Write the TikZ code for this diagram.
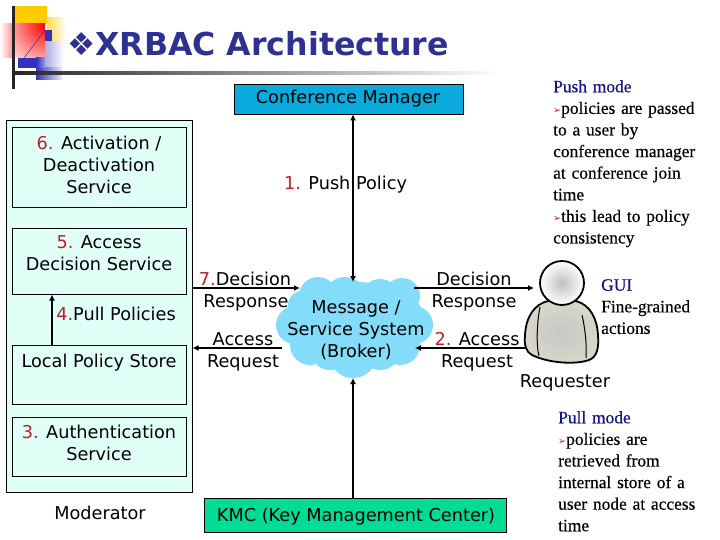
\documentclass[tikz,border=0pt]{standalone}
\usepackage{fontspec}
\setmainfont{DejaVu Sans}
\newfontfamily\serifx[FakeBold=0.4]{Liberation Serif}
\usetikzlibrary{arrows.meta,shapes.geometric}
\definecolor{titleblue}{RGB}{46,49,146}
\definecolor{navy}{RGB}{20,20,140}
\definecolor{numred}{RGB}{190,30,45}
\definecolor{boxfill}{RGB}{224,255,246}
\definecolor{cloudblue}{RGB}{130,220,250}
\definecolor{confblue}{RGB}{10,170,220}
\definecolor{kmcgreen}{RGB}{0,220,150}
\definecolor{bodygrey}{RGB}{216,215,200}
\definecolor{logoblue}{RGB}{50,50,190}
\definecolor{logoyellow}{RGB}{255,204,0}
\newcommand{\num}[1]{\textcolor{numred}{#1}}
\newcommand{\tip}{\textcolor{numred}{\scalebox{.55}{\fontspec{DejaVu Sans}➢}}}
\tikzset{
 x=1pt,y=-1pt,
 svc/.style={draw=black,line width=.7pt,fill=boxfill,minimum width=174pt,inner sep=0pt},
 lbl/.style={align=center,inner sep=0pt,font=\fontsize{17.7}{22}\selectfont},
 note/.style={align=left,anchor=north west,inner sep=0pt,font=\serifx\fontsize{17.4}{21.6}\selectfont,text width=#1},
 note/.default=165pt,
 arr/.style={line width=1.5pt,-{Latex[length=6pt,width=6pt]}},
 darr/.style={line width=1.5pt,{Latex[length=6pt,width=6pt]}-{Latex[length=6pt,width=6pt]}}
}
\begin{document}
\begin{tikzpicture}
\useasboundingbox (0,0) rectangle (720,540);
% logo
\fill[logoyellow] (15,6) rectangle (47,24);
\fill[left color=logoyellow!70!white,right color=white] (47,18) rectangle (66,42);
\fill[left color=white,right color=red!50!white] (0,24) rectangle (15,58);
\begin{scope}
\clip (15,24) rectangle (45,58);
\shade[inner color=red,outer color=red!15!white] (45,24) circle (45);
\end{scope}
\fill[logoblue] (45,30) rectangle (52,42);
\fill[left color=logoblue!40!white,right color=white] (45,42) rectangle (64,68);
\fill[left color=logoblue,right color=logoblue!10!white] (36,68) rectangle (62,80);
\fill[logoblue] (18,58) rectangle (36,68);
\fill[left color=logoblue,right color=logoblue!50!white] (36,58) rectangle (45,68);
\draw[titleblue,line width=.5pt] (24,58) -- (45,30);
\fill[black!85] (12,6) rectangle (15,89);
\shade[left color=black!85,right color=white] (15,72) rectangle (500,75);
% title
\node[anchor=west,inner sep=0pt,text=titleblue,font=\fontsize{31.6}{36}\selectfont] (title) at (67,44) {\fontspec{DejaVu Sans}❖\fontspec{DejaVu Sans Bold}XRBAC Architecture};
% moderator
\node[draw=black,line width=.7pt,fill=boxfill,minimum width=186pt,minimum height=372pt,inner sep=0pt] (outer) at (99,306) {};
\node[svc,minimum height=80pt] (s6) at (99,167) {};
\node[lbl] (s6t) at (99,165) {\num{6.} Activation /\\Deactivation\\Service};
\node[svc,minimum height=66pt,anchor=north] (s5) at (99,228) {};
\node[lbl] (s5t) at (99,253) {\num{5.} Access\\Decision Service};
\node[svc,minimum height=59pt,anchor=north] (store) at (99,345) {};
\node[lbl] (storet) at (99,363) {Local Policy Store};
\node[svc,minimum height=59pt,anchor=north] (s3) at (99,417) {};
\node[lbl] (s3t) at (99,443) {\num{3.} Authentication\\Service};
\node[lbl] (pull) at (116,314) {\num{4.}Pull Policies};
\node[lbl] (mod) at (100,513) {Moderator};
\coordinate (pA) at (52,345);
\coordinate (pB) at (52,294.5);
\draw[arr] (pA) -- (pB);
% top and bottom
\node[draw=black,line width=.7pt,fill=confblue,minimum width=229pt,minimum height=30pt,inner sep=0pt] (conf) at (348.5,99) {};
\node[lbl] (conft) at (348,99) {Conference Manager};
\node[draw=black,line width=.7pt,fill=kmcgreen,minimum width=302pt,minimum height=34pt,inner sep=0pt] (kmc) at (355,515) {};
\node[lbl] (kmct) at (356,517) {KMC (Key Management Center)};
% cloud
\fill[cloudblue] (318,296) circle (19) (302,305) circle (14) (345,298) circle (21) (380,298) circle (19) (402,296) circle (18)
 (295,325) circle (19) (414,325) circle (19) (310,345) circle (20) (400,345) circle (20) (353,354) circle (24) (330,350) circle (20) (380,350) circle (20) (355,320) ellipse (70 and 38);
\node[lbl] (msg) at (356,330) {Message /\\Service System\\(Broker)};
\coordinate (cT) at (353,282);
\coordinate (cB) at (353,378);
\draw[darr] (conf.south -| cT) -- (cT);
\draw[arr] (kmc.north -| cB) -- (cB);
\node[lbl] (push) at (345.5,185) {\num{1.} Push Policy};
% connectors
\coordinate (lE1) at (192,288);
\coordinate (lE2) at (300,288);
\coordinate (lE3) at (282,348);
\coordinate (lE4) at (192.5,348);
\coordinate (rE1) at (414,288);
\coordinate (rE2) at (534,288);
\coordinate (rE3) at (534,348);
\coordinate (rE4) at (415,348);
\draw[arr] (lE1) -- (lE2);
\draw[arr] (lE3) -- (lE4);
\draw[arr] (rE1) -- (rE2);
\draw[arr] (rE3) -- (rE4);
\node[lbl] (t7) at (245,279) {\num{7.}Decision};
\node[lbl] (t7b) at (246,303) {Response};
\node[lbl] (ta) at (243,339) {Access};
\node[lbl] (tab) at (243,363) {Request};
\node[lbl] (td) at (474,279) {Decision};
\node[lbl] (tdb) at (474,303) {Response};
\node[lbl] (t2) at (477,339) {\num{2.} Access};
\node[lbl] (t2b) at (477,363) {Request};
% person
\draw[line width=1.8pt,line join=round,inner color=black!22,outer color=bodygrey]
 (548,301) .. controls (535,304) and (526,316) .. (525,335)
 .. controls (524,345) and (526,352) .. (532,355)
 .. controls (548,363) and (575,365) .. (589,360)
 .. controls (597,357) and (599,348) .. (598,335)
 .. controls (597,318) and (590,305) .. (576,301)
 -- cycle;
\draw[line width=1pt] (540,307) .. controls (537,322) and (536,345) .. (539,356);
\draw[line width=1pt] (582,315) .. controls (585,328) and (587,345) .. (586,358);
\shade[inner color=black!25,outer color=white,draw=black,line width=1.8pt] (562,283) circle (22);
\node[lbl] (req) at (565,383) {Requester};
% notes
\node[note=165pt] (pushn) at (553,80) {\textcolor{navy}{Push mode}\\\tip policies are passed\\to a user by\\conference manager\\at conference join\\time\\\tip this lead to policy\\consistency};
\node[note=115pt] (gui) at (601,279) {\textcolor{navy}{GUI}\\Fine-grained\\actions};
\node[note=160pt] (pulln) at (558,411) {\textcolor{navy}{Pull mode}\\\tip policies are\\retrieved from\\internal store of a\\user node at access\\time};
\end{tikzpicture}
\end{document}
